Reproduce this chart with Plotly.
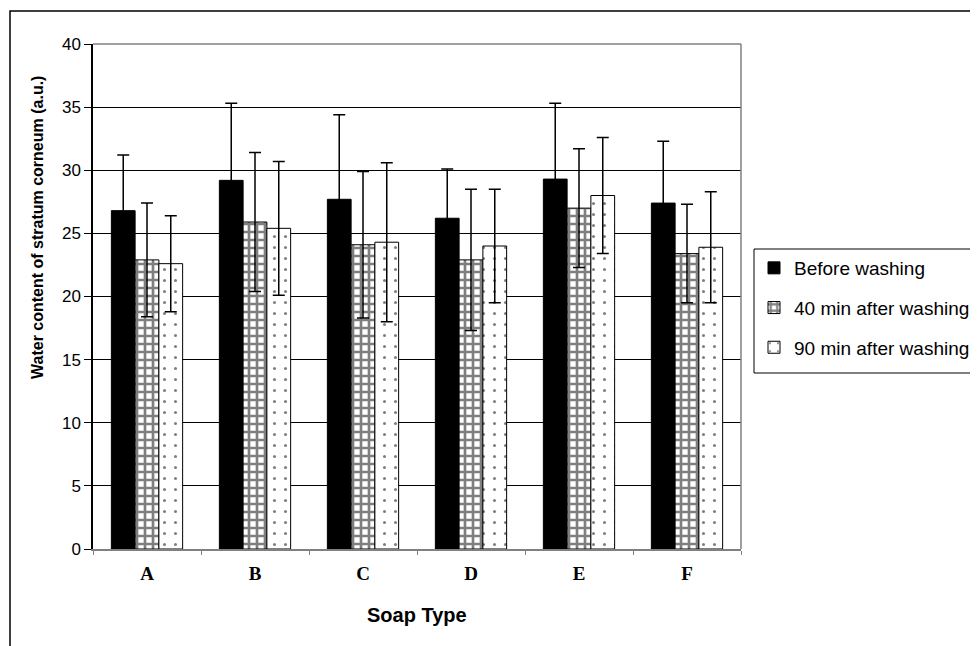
import plotly.graph_objects as go

categories = ["A", "B", "C", "D", "E", "F"]
category_labels = ["<b>A</b>", "<b>B</b>", "<b>C</b>", "<b>D</b>", "<b>E</b>", "<b>F</b>"]
before = [26.8, 29.2, 27.7, 26.2, 29.3, 27.4]
before_err = [4.4, 6.1, 6.7, 3.9, 6.0, 4.9]
after40 = [22.9, 25.9, 24.1, 22.9, 27.0, 23.4]
after40_err = [4.5, 5.5, 5.8, 5.6, 4.7, 3.9]
after90 = [22.6, 25.4, 24.3, 24.0, 28.0, 23.9]
after90_err = [3.8, 5.3, 6.3, 4.5, 4.6, 4.4]
series_names = ["Before washing", "40 min after washing", "90 min after washing"]

OFF = 8  # page offset of the figure
W, H = 978, 646
L, R, T, B = 93 - OFF, 741 - OFF, 44 - OFF, 549 - OFF
pw, ph = R - L, B - T

def px_x(x):
    return (x - OFF - L) / pw

def px_y(y):
    return (B - (y - OFF)) / ph

err_style = dict(type="data", symmetric=True, color="black", thickness=1.5, width=6, visible=True)

fig = go.Figure()
fig.add_trace(go.Bar(
    x=categories, y=before, name=series_names[0], legendgroup="g1",
    marker=dict(color="black", line=dict(color="black", width=1)),
    error_y=dict(array=before_err, **err_style),
))
fig.add_trace(go.Bar(
    x=categories, y=after40, name=series_names[1], legendgroup="g2",
    marker=dict(color="white", line=dict(color="black", width=1),
                pattern=dict(shape="+", fgcolor="black", bgcolor="white", size=8, solidity=0.55)),
    error_y=dict(array=after40_err, **err_style),
))
fig.add_trace(go.Bar(
    x=categories, y=after90, name=series_names[2], legendgroup="g3",
    marker=dict(color="white", line=dict(color="black", width=1),
                pattern=dict(shape=".", fgcolor="black", bgcolor="white", size=11, solidity=0.06)),
    error_y=dict(array=after90_err, **err_style),
))

shapes = [
    dict(type="rect", xref="paper", yref="paper",
         x0=px_x(10), y0=px_y(700), x1=px_x(1100), y1=px_y(11),
         line=dict(color="black", width=1.5), fillcolor="rgba(0,0,0,0)", layer="below"),
    dict(type="line", xref="paper", yref="paper", x0=0, x1=1, y0=1, y1=1,
         line=dict(color="#808080", width=1.5), layer="above"),
    dict(type="line", xref="paper", yref="paper", x0=1, x1=1, y0=0, y1=1,
         line=dict(color="#808080", width=1.5), layer="above"),
    # legend box, running off the right edge of the page
    dict(type="rect", xref="paper", yref="paper",
         x0=px_x(754), y0=px_y(373), x1=px_x(1100), y1=px_y(249),
         line=dict(color="black", width=1), fillcolor="white", layer="above"),
]

fig.update_layout(
    width=W, height=H,
    margin=dict(l=L, r=W - R, t=T, b=H - B, autoexpand=False),
    paper_bgcolor="white", plot_bgcolor="white",
    barmode="group", bargap=0.34, bargroupgap=0,
    font=dict(family="Liberation Sans, Arial", color="black"),
    showlegend=True,
    legend=dict(x=px_x(754), y=px_y(249), xanchor="left", yanchor="top",
                bgcolor="rgba(0,0,0,0)", borderwidth=0,
                font=dict(size=19, family="Liberation Sans, Arial", color="black"),
                traceorder="grouped", tracegroupgap=12, itemwidth=30),
    shapes=shapes,
    xaxis=dict(showline=True, linecolor="#808080", linewidth=1.5,
               ticks="outside", tickson="boundaries", ticklen=4, tickcolor="#808080",
               tickmode="array", tickvals=categories, ticktext=category_labels,
               ticklabelstandoff=6,
               tickfont=dict(family="Liberation Serif, Times New Roman", size=19, color="black"),
               showgrid=False, title=None),
    yaxis=dict(range=[0, 40], dtick=5, showline=True, linecolor="black", linewidth=1.5,
               ticks="outside", ticklen=7, tickcolor="black",
               tickfont=dict(size=17, color="black"),
               showgrid=True, gridcolor="black", gridwidth=1, zeroline=False, title=None),
    annotations=[
        dict(text="<b>Soap Type</b>", xref="paper", yref="paper",
             x=0.5, y=px_y(615), xanchor="center", yanchor="middle",
             showarrow=False, font=dict(size=20, color="black")),
        dict(text="<b>Water content of stratum corneum (a.u.)</b>", xref="paper", yref="paper",
             x=px_x(37), y=px_y(228), xanchor="center", yanchor="middle", textangle=-90,
             showarrow=False, font=dict(size=16, color="black")),
    ],
)

fig.write_html("out.html")
